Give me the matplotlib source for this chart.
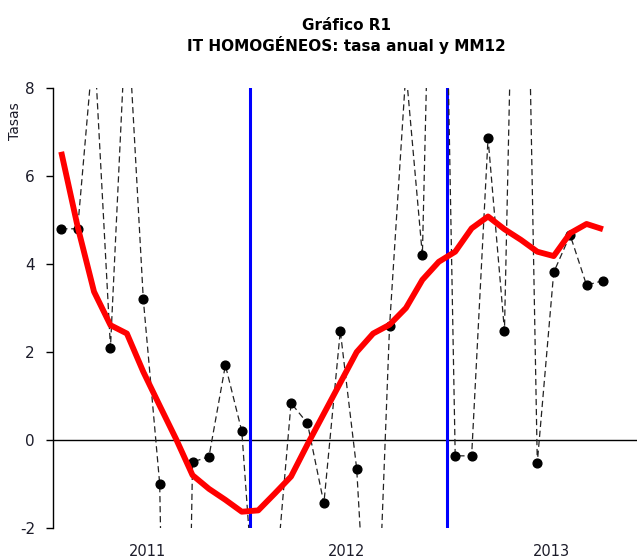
import matplotlib
matplotlib.use("Agg")
import matplotlib.pyplot as plt
import numpy as np

# Monthly data Jan 2011 .. Oct 2013
years = [2011] * 12 + [2012] * 12 + [2013] * 10
months = list(range(1, 13)) + list(range(1, 13)) + list(range(1, 11))

tasa_anual = [4.8, 4.8, 9.1, 2.1, 10.0, 3.2, -1.0, -22.0, -0.5, -0.38, 1.7, 0.2,
              -5.0, -3.5, 0.84, 0.38, -1.44, 2.48, -0.66, -7.2, 2.58, 8.4, 4.2, 20.0,
              -0.36, -0.36, 6.86, 2.48, 20.0, -0.52, 3.81, 4.66, 3.52, 3.62]

mm12 = [6.55, 4.85, 3.37, 2.61, 2.42, 1.55, 0.78, 0.02, -0.8, -1.11, -1.36, -1.63,
        -1.6, -1.22, -0.83, -0.1, 0.6, 1.3, 2.0, 2.42, 2.62, 3.0, 3.64, 4.05,
        4.28, 4.81, 5.08, 4.79, 4.55, 4.28, 4.18, 4.70, 4.91, 4.79]

year_labels = ["2011", "2012", "2013"]
year_label_pos = [2011.48, 2012.49, 2013.53]
boundaries = [2012.0, 2013.0]
yticks = [-2, 0, 2, 4, 6, 8]

x = np.array(years) + (np.array(months) - 0.5) / 12.0

fig = plt.figure(figsize=(6.37, 5.59), dpi=100)
ax = fig.add_axes([53 / 637, 31 / 559, 1 - 53 / 637, 440 / 559])

txt = "#1c1c2a"

ax.axhline(0, color="black", lw=1.0, zorder=1)
for b in boundaries:
    ax.axvline(b, color="#0000ff", lw=2.2, zorder=2)

ax.plot(x, tasa_anual, color="#222222", lw=0.9, dashes=(5, 3), zorder=3,
        marker="o", markersize=6.3, markerfacecolor="black", markeredgecolor="black")
ax.plot(x, mm12, color="#ff0000", lw=4.2, zorder=4, solid_joinstyle="round",
        solid_capstyle="butt")

ax.set_xlim(2011.0, 2011.0 + (637 - 53) / 197)
ax.set_ylim(-2, 8)

for s in ["top", "right", "bottom"]:
    ax.spines[s].set_visible(False)
ax.spines["left"].set_linewidth(1.0)
ax.set_xticks([])
ax.set_yticks(yticks)
ax.set_yticklabels([str(t) for t in yticks], fontsize=11, color=txt,
                   fontfamily="DejaVu Sans")
ax.tick_params(axis="y", length=5, width=1.0, pad=8)

for lab, pos in zip(year_labels, year_label_pos):
    ax.text(pos, -2.53, lab, ha="center", va="center", fontsize=10.5, color=txt,
            transform=ax.transData, clip_on=False)

fig.text(15 / 637, 1 - 121 / 559, "Tasas", rotation=90, ha="center", va="center",
         fontsize=10, color=txt)

fig.text(346 / 637, 1 - 25 / 559, "Gráfico R1", ha="center", va="center",
         fontsize=11, fontweight="bold", color="black")
fig.text(346 / 637, 1 - 45 / 559, "IT HOMOGÉNEOS: tasa anual y MM12", ha="center",
         va="center", fontsize=11, fontweight="bold", color="black")

fig.savefig("out.png", dpi=100)
